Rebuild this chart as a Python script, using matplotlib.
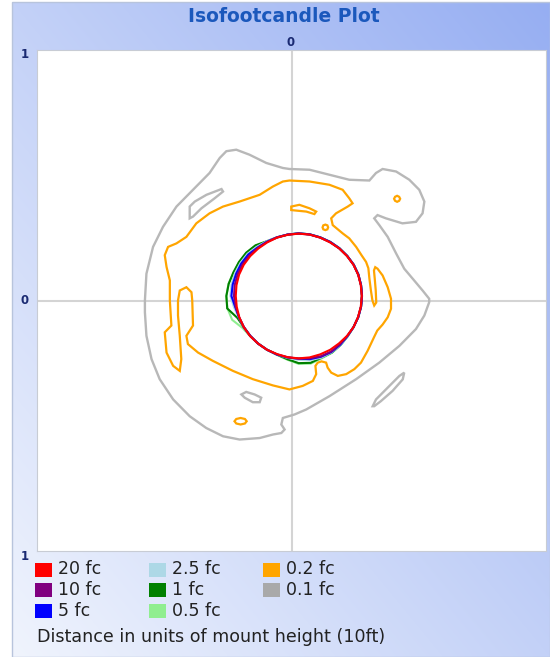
import numpy as np
import matplotlib
matplotlib.use("Agg")
import matplotlib.pyplot as plt
from matplotlib.patches import Rectangle

# ---------------- data ----------------
levels = ["20 fc", "10 fc", "5 fc", "2.5 fc", "1 fc", "0.5 fc", "0.2 fc", "0.1 fc"]
level_colors = ["#ff0000", "#800080", "#0000ff", "#add8e6", "#008000", "#90ee90", "#ffa500", "#a9a9a9"]

# near-circular inner contours: radius (mount heights) at angles around a centre
center_x = 0.028
center_y = 0.018
angles_deg = [0, 10, 20, 30, 40, 50, 60, 70, 80, 90, 100, 110, 120, 130, 140, 150, 160, 170,
              180, 190, 200, 210, 220, 230, 240, 250, 260, 270, 280, 290, 300, 310, 320, 330, 340, 350]
r_20fc = [0.248, 0.248, 0.249, 0.249, 0.248, 0.248, 0.247, 0.248, 0.249, 0.249, 0.248, 0.248,
          0.247, 0.247, 0.248, 0.249, 0.249, 0.248, 0.247, 0.247, 0.248, 0.249, 0.249, 0.248,
          0.248, 0.247, 0.248, 0.249, 0.249, 0.248, 0.248, 0.247, 0.248, 0.249, 0.248, 0.248]
r_10fc = [0.249, 0.249, 0.249, 0.249, 0.249, 0.248, 0.248, 0.248, 0.249, 0.249, 0.249, 0.249,
          0.249, 0.250, 0.252, 0.254, 0.255, 0.255, 0.254, 0.251, 0.249, 0.248, 0.248, 0.248,
          0.248, 0.248, 0.249, 0.250, 0.253, 0.256, 0.256, 0.252, 0.249, 0.249, 0.249, 0.249]
r_5fc = [0.249, 0.249, 0.250, 0.250, 0.249, 0.249, 0.249, 0.249, 0.250, 0.250, 0.249, 0.249,
         0.250, 0.252, 0.258, 0.260, 0.261, 0.263, 0.264, 0.253, 0.249, 0.249, 0.248, 0.248,
         0.248, 0.249, 0.249, 0.250, 0.256, 0.258, 0.258, 0.254, 0.250, 0.249, 0.249, 0.249]
r_2_5fc = [0.249, 0.249, 0.250, 0.250, 0.249, 0.249, 0.249, 0.249, 0.250, 0.250, 0.249, 0.250,
           0.252, 0.256, 0.262, 0.264, 0.266, 0.268, 0.268, 0.258, 0.250, 0.249, 0.248, 0.248,
           0.248, 0.249, 0.251, 0.255, 0.260, 0.262, 0.260, 0.256, 0.251, 0.249, 0.249, 0.249]
r_1fc = [0.249, 0.249, 0.250, 0.250, 0.249, 0.249, 0.249, 0.249, 0.250, 0.250, 0.249, 0.249,
         0.252, 0.264, 0.269, 0.271, 0.273, 0.279, 0.284, 0.285, 0.256, 0.249, 0.248, 0.248,
         0.248, 0.249, 0.256, 0.268, 0.271, 0.262, 0.261, 0.256, 0.251, 0.249, 0.249, 0.249]
r_0_5fc = [0.249, 0.249, 0.250, 0.250, 0.249, 0.249, 0.249, 0.249, 0.250, 0.250, 0.249, 0.249,
           0.251, 0.262, 0.268, 0.270, 0.273, 0.280, 0.284, 0.284, 0.278, 0.255, 0.249, 0.248,
           0.248, 0.250, 0.258, 0.271, 0.274, 0.265, 0.262, 0.256, 0.251, 0.249, 0.249, 0.249]

# 0.2 fc contour (x, y in mount heights)
orange_x = [-0.008, 0.071, 0.149, 0.201, 0.227, 0.240, 0.221, 0.175, 0.156, 0.162, 0.201, 0.227,
            0.254, 0.275, 0.293, 0.302, 0.306, 0.312, 0.318, 0.325, 0.333, 0.331, 0.327, 0.324,
            0.329, 0.338, 0.358, 0.378, 0.391, 0.391, 0.378, 0.358, 0.337, 0.325, 0.299, 0.273,
            0.247, 0.215, 0.182, 0.156, 0.142, 0.136, 0.118, 0.103, 0.094, 0.097, 0.084, 0.044,
            -0.008, -0.073, -0.152, -0.230, -0.309, -0.367, -0.407, -0.413, -0.387, -0.390, -0.393,
            -0.413, -0.439, -0.446, -0.446, -0.439, -0.433, -0.439, -0.465, -0.491, -0.498, -0.472,
            -0.478, -0.478, -0.491, -0.498, -0.485, -0.452, -0.413, -0.374, -0.322, -0.269, -0.204,
            -0.125, -0.073, -0.034]
orange_y = [0.479, 0.475, 0.462, 0.442, 0.408, 0.388, 0.375, 0.348, 0.328, 0.301, 0.268, 0.248,
            0.214, 0.181, 0.154, 0.129, 0.088, 0.040, 0.000, -0.020, -0.008, 0.040, 0.088, 0.120,
            0.133, 0.127, 0.100, 0.053, 0.007, -0.033, -0.067, -0.096, -0.120, -0.145, -0.201, -0.248,
            -0.274, -0.294, -0.301, -0.288, -0.268, -0.248, -0.243, -0.248, -0.261, -0.294, -0.321, -0.341,
            -0.355, -0.339, -0.314, -0.281, -0.241, -0.208, -0.174, -0.141, -0.100, 0.000, 0.033,
            0.053, 0.040, 0.000, -0.060, -0.141, -0.234, -0.281, -0.261, -0.208, -0.127, -0.100,
            0.000, 0.080, 0.134, 0.181, 0.214, 0.228, 0.254, 0.308, 0.348, 0.375, 0.395,
            0.422, 0.455, 0.475]
orange_islands = [
    ([-0.001, 0.031, 0.071, 0.097, 0.090, 0.058, 0.018, -0.001],
     [0.375, 0.382, 0.368, 0.355, 0.345, 0.355, 0.359, 0.361]),
    ([0.144, 0.141, 0.133, 0.125, 0.122, 0.125, 0.133, 0.141],
     [0.292, 0.300, 0.303, 0.300, 0.292, 0.284, 0.281, 0.284]),
    ([0.427, 0.423, 0.415, 0.407, 0.403, 0.407, 0.415, 0.423],
     [0.406, 0.414, 0.418, 0.414, 0.406, 0.398, 0.394, 0.398]),
    ([-0.176, -0.183, -0.200, -0.217, -0.224, -0.217, -0.200, -0.183],
     [-0.482, -0.473, -0.469, -0.473, -0.482, -0.491, -0.495, -0.491]),
]

# 0.1 fc contour
grey_x = [-0.008, 0.071, 0.149, 0.227, 0.306, 0.332, 0.358, 0.411, 0.463, 0.502, 0.522, 0.515,
          0.489, 0.436, 0.371, 0.338, 0.325, 0.345, 0.378, 0.411, 0.443, 0.482, 0.515, 0.541,
          0.541, 0.522, 0.489, 0.424, 0.345, 0.254, 0.149, 0.058, 0.012, -0.034, -0.040, -0.027,
          -0.040, -0.073, -0.125, -0.204, -0.269, -0.335, -0.400, -0.465, -0.518, -0.550, -0.570,
          -0.576, -0.576, -0.570, -0.544, -0.505, -0.452, -0.387, -0.322, -0.282, -0.256, -0.217,
          -0.165, -0.099, -0.034]
grey_y = [0.525, 0.522, 0.502, 0.482, 0.479, 0.509, 0.525, 0.515, 0.482, 0.442, 0.395, 0.348,
          0.314, 0.308, 0.328, 0.341, 0.328, 0.301, 0.254, 0.188, 0.127, 0.080, 0.040, 0.007,
          -0.007, -0.060, -0.114, -0.181, -0.248, -0.314, -0.382, -0.435, -0.455, -0.469, -0.495, -0.515,
          -0.529, -0.535, -0.549, -0.555, -0.542, -0.509, -0.462, -0.395, -0.314, -0.234, -0.141,
          -0.047, 0.000, 0.107, 0.214, 0.294, 0.375, 0.442, 0.509, 0.569, 0.596, 0.602,
          0.582, 0.549, 0.529]
grey_islands = [
    ([-0.400, -0.400, -0.380, -0.334, -0.275, -0.269, -0.302, -0.354, -0.387],
     [0.328, 0.375, 0.395, 0.422, 0.445, 0.435, 0.408, 0.368, 0.335]),
    ([-0.197, -0.178, -0.145, -0.119, -0.125, -0.152, -0.184],
     [-0.375, -0.365, -0.375, -0.388, -0.406, -0.406, -0.388]),
    ([0.319, 0.332, 0.371, 0.424, 0.443, 0.437, 0.397, 0.351, 0.325],
     [-0.422, -0.395, -0.355, -0.301, -0.288, -0.315, -0.361, -0.402, -0.422]),
]

title = "Isofootcandle Plot"
footer = "Distance in units of mount height (10ft)"

# ---------------- figure ----------------
W, H = 550, 657
fig = plt.figure(figsize=(W / 100, H / 100), dpi=100)
fig.patch.set_facecolor("white")

# background frame (pixel coordinates)
bg = fig.add_axes([0, 0, 1, 1], zorder=0)
bg.set_xlim(0, W)
bg.set_ylim(H, 0)
bg.axis("off")
gx = np.linspace(0, 1, 200)[None, :]
gy = np.linspace(0, 1, 200)[:, None]
t = (gx + (1 - gy)) / 2.0
c0 = np.array([240, 244, 253]) / 255.0
c1 = np.array([150, 174, 242]) / 255.0
grad = c0[None, None, :] * (1 - t[..., None]) + c1[None, None, :] * t[..., None]
bg.imshow(grad, extent=[12, W, H, 2], origin="upper", aspect="auto", interpolation="bilinear")
bg.add_patch(Rectangle((12, 2), W - 12, H - 2, fill=False, edgecolor="#b8c4dc", lw=1.0))

bg.text(284, 17, title, ha="center", va="center", fontsize=13.5, fontweight="bold",
        color="#1b58bc", family="DejaVu Sans")
tick_col = "#1a2a72"
bg.text(291, 43, "0", ha="center", va="center", fontsize=8.5, fontweight="bold", color=tick_col)
bg.text(25, 55, "1", ha="center", va="center", fontsize=8.5, fontweight="bold", color=tick_col)
bg.text(25, 300, "0", ha="center", va="center", fontsize=8.5, fontweight="bold", color=tick_col)
bg.text(25, 556, "1", ha="center", va="center", fontsize=8.5, fontweight="bold", color=tick_col)

# legend
col_x = [35, 149, 263]
row_y = [569.5, 590, 611]
for i, (lab, col) in enumerate(zip(levels, level_colors)):
    cx_ = col_x[i // 3]
    cy_ = row_y[i % 3]
    bg.add_patch(Rectangle((cx_, cy_ - 7), 17, 14, facecolor=col, edgecolor="none"))
    bg.text(cx_ + 23, cy_, lab, ha="left", va="center", fontsize=12.5, color="#222222")
bg.text(37, 637, footer, ha="left", va="center", fontsize=12.6, color="#222222")

# main plot
ax = fig.add_axes([37 / W, 1 - 551 / H, 509 / W, 501 / H], zorder=1)
ax.set_facecolor("white")
ax.set_xlim(-1, 1)
ax.set_ylim(-1, 1)
ax.set_xticks([])
ax.set_yticks([])
for s in ax.spines.values():
    s.set_color("#c8ccd4")
    s.set_linewidth(0.8)
ax.axhline(0, color="#d4d4d4", lw=1.5, zorder=1)
ax.axvline(0, color="#d4d4d4", lw=1.5, zorder=1)

grey_line = "#b8b8b8"
ax.fill(grey_x, grey_y, facecolor="none", edgecolor=grey_line, lw=1.7, zorder=2)
for ix, iy in grey_islands:
    ax.fill(ix, iy, facecolor="none", edgecolor=grey_line, lw=1.7, zorder=2)
ax.fill(orange_x, orange_y, facecolor="none", edgecolor=level_colors[6], lw=1.6, zorder=3)
for ix, iy in orange_islands:
    ax.fill(ix, iy, facecolor="none", edgecolor=level_colors[6], lw=1.6, zorder=3)

theta = np.deg2rad(np.array(angles_deg))
inner = [(r_0_5fc, level_colors[5]), (r_1fc, level_colors[4]), (r_2_5fc, level_colors[3]),
         (r_5fc, level_colors[2]), (r_10fc, level_colors[1]), (r_20fc, level_colors[0])]
for z, (rr, col) in enumerate(inner):
    rr = np.array(rr)
    xs = center_x + rr * np.cos(theta)
    ys = center_y + rr * np.sin(theta)
    ax.fill(xs, ys, facecolor="none", edgecolor=col, lw=1.5, zorder=4 + z)

fig.savefig("out.png", dpi=100)
